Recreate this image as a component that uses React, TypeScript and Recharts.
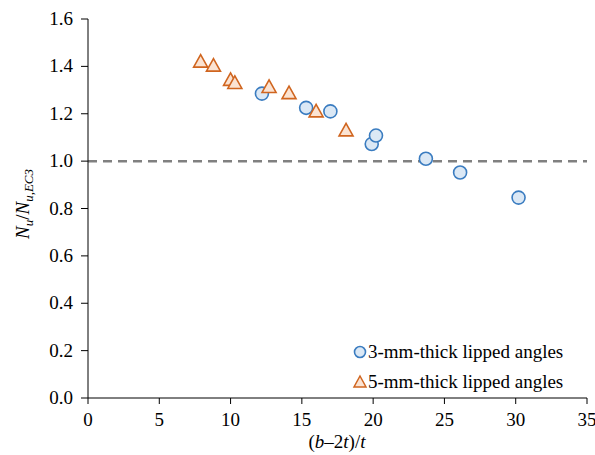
import {
  Legend,
  ReferenceLine,
  Scatter,
  ScatterChart,
  XAxis,
  YAxis,
} from "recharts";

// slenderness (b-2t)/t and normalised resistance Nu/Nu,EC3
const thin3X = [12.2, 15.3, 17.0, 19.9, 20.2, 23.7, 26.1, 30.2];
const thin3Y = [1.285, 1.225, 1.21, 1.072, 1.108, 1.01, 0.952, 0.846];
const thick5X = [7.9, 8.8, 10.0, 10.3, 12.7, 14.1, 16.0, 18.1];
const thick5Y = [1.42, 1.403, 1.343, 1.33, 1.313, 1.287, 1.21, 1.13];

const xTicks = [0, 5, 10, 15, 20, 25, 30, 35];
const yTicks = [0, 0.2, 0.4, 0.6, 0.8, 1.0, 1.2, 1.4, 1.6];

const SERIES_LABELS = ["3-mm-thick lipped angles", "5-mm-thick lipped angles"];

const FONT = "Liberation Serif";
const BLUE_STROKE = "#3a7cc0";
const BLUE_FILL = "#dbe8f5";
const ORANGE_STROKE = "#d0651f";
const ORANGE_FILL = "#fbe3d2";

const thin3 = thin3X.map((x, i) => ({ x, y: thin3Y[i] }));
const thick5 = thick5X.map((x, i) => ({ x, y: thick5Y[i] }));

const CircleMark = (props: any) => (
  <circle cx={props.cx} cy={props.cy} r={6.5} fill={BLUE_FILL} stroke={BLUE_STROKE} strokeWidth={1.6} />
);

const TriangleMark = (props: any) => {
  const { cx, cy } = props;
  const pts = `${cx},${cy - 7} ${cx + 7},${cy + 5.5} ${cx - 7},${cy + 5.5}`;
  return <polygon points={pts} fill={ORANGE_FILL} stroke={ORANGE_STROKE} strokeWidth={1.6} strokeLinejoin="miter" />;
};

// custom tick renderers so the serif font actually sticks
const XTick = (props: any) => (
  <text x={props.x} y={props.y + 22} textAnchor="middle" fontFamily={FONT} fontSize={19} fill="#000">
    {props.payload.value}
  </text>
);

const YTick = (props: any) => (
  <text x={props.x - 8} y={props.y + 6} textAnchor="end" fontFamily={FONT} fontSize={19} fill="#000">
    {Number(props.payload.value).toFixed(1)}
  </text>
);

function LegendBox() {
  return (
    <div style={{ fontFamily: FONT, fontSize: 19, color: "#000", lineHeight: "30px" }}>
      <div style={{ display: "flex", alignItems: "center" }}>
        <svg width={16} height={16}>
          <circle cx={8} cy={8} r={5.5} fill={BLUE_FILL} stroke={BLUE_STROKE} strokeWidth={1.6} />
        </svg>
        {SERIES_LABELS[0]}
      </div>
      <div style={{ display: "flex", alignItems: "center" }}>
        <svg width={16} height={16}>
          <polygon points="8,2 14,13 2,13" fill={ORANGE_FILL} stroke={ORANGE_STROKE} strokeWidth={1.5} />
        </svg>
        {SERIES_LABELS[1]}
      </div>
    </div>
  );
}

export default function App() {
  return (
    <div style={{ position: "absolute", left: 0, top: 0, background: "#fff" }}>
      <ScatterChart width={595} height={455} margin={{ top: 19, right: 8, bottom: 0, left: 0 }}>
        <XAxis
          type="number"
          dataKey="x"
          domain={[0, 35]}
          ticks={xTicks}
          tickSize={6}
          tickMargin={0}
          height={57}
          stroke="#000"
          tick={XTick}
          label={{
            content: () => (
              <text x={337} y={448} textAnchor="middle" fontFamily={FONT} fontSize={19} fill="#000">
                (<tspan fontStyle="italic">b</tspan>–2<tspan fontStyle="italic">t</tspan>)/<tspan fontStyle="italic">t</tspan>
              </text>
            ),
          }}
        />
        <YAxis
          type="number"
          dataKey="y"
          domain={[0, 1.6]}
          ticks={yTicks}
          tickSize={7}
          tickMargin={0}
          width={88}
          stroke="#000"
          tick={YTick}
          label={{
            content: () => (
              <text
                x={0}
                y={0}
                transform="translate(29,204) rotate(-90)"
                textAnchor="middle"
                fontFamily={FONT}
                fontSize={19}
                fill="#000"
              >
                <tspan fontStyle="italic">N</tspan>
                <tspan fontStyle="italic" fontSize={13} dy={4}>u</tspan>
                <tspan dy={-4}>/</tspan>
                <tspan fontStyle="italic">N</tspan>
                <tspan fontStyle="italic" fontSize={13} dy={4}>u,EC3</tspan>
              </text>
            ),
          }}
        />
        <ReferenceLine y={1} stroke="#808080" strokeWidth={2.5} strokeDasharray="9 6" />
        <Legend
          layout="horizontal"
          align="center"
          verticalAlign="middle"
          wrapperStyle={{ left: 352, top: 337, width: 240 }}
          content={() => <LegendBox />}
        />
        <Scatter data={thin3} shape={CircleMark} isAnimationActive={false} />
        <Scatter data={thick5} shape={TriangleMark} isAnimationActive={false} />
      </ScatterChart>
    </div>
  );
}
